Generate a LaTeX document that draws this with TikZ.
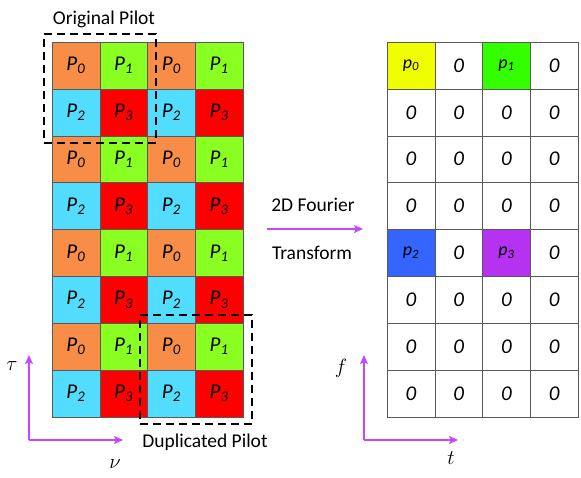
\documentclass[tikz,border=0pt]{standalone}
\usepackage{fontspec}
\setmainfont{Carlito}
\usetikzlibrary{positioning, arrows.meta}

\definecolor{pOrange}{RGB}{248,141,72}
\definecolor{pLime}{RGB}{138,255,34}
\definecolor{pCyan}{RGB}{82,221,255}
\definecolor{pRed}{RGB}{255,0,0}
\definecolor{qYellow}{RGB}{240,255,0}
\definecolor{qGreen}{RGB}{52,255,0}
\definecolor{qBlue}{RGB}{52,102,255}
\definecolor{qPurple}{RGB}{180,50,240}
\definecolor{axisMagenta}{RGB}{200,70,255}

\newcommand{\pil}[1]{P\textsubscript{#1}}
\newcommand{\sym}[1]{p\textsubscript{#1}}

\begin{document}
\begin{tikzpicture}[x=1pt, y=-1pt]
    \tikzstyle{cell} = [rectangle, draw=gray!70!black, minimum width=47.75pt, minimum height=46.875pt, inner sep=0pt, font=\fontsize{21}{23}\selectfont\itshape]
    \tikzstyle{symcell} = [cell, font=\fontsize{18}{20}\selectfont\itshape]
    \tikzstyle{pilotbox} = [rectangle, draw=black, dash pattern=on 8pt off 5pt, line width=1.6pt, minimum width=112pt, minimum height=109pt]
    \tikzstyle{label} = [font=\fontsize{19.5}{22}\selectfont]
    \tikzstyle{axislabel} = [font=\fontsize{21}{23}\selectfont]
    \tikzstyle{arrow} = [draw=axisMagenta, line width=1.4pt, -{Stealth[length=9pt, width=8pt, inset=2pt]}]

    \useasboundingbox (0,0) rectangle (581,478);

    % Delay-Doppler grid
    \foreach \r/\s in {0/1, 2/3, 4/5, 6/7} {
        \node (L-\r-0) [cell, fill=pOrange] at (75.875, {42+46.875*(\r+0.5)}) {\pil{0}};
        \node (L-\r-1) [cell, fill=pLime] at (123.625, {42+46.875*(\r+0.5)}) {\pil{1}};
        \node (L-\r-2) [cell, fill=pOrange] at (171.375, {42+46.875*(\r+0.5)}) {\pil{0}};
        \node (L-\r-3) [cell, fill=pLime] at (219.125, {42+46.875*(\r+0.5)}) {\pil{1}};
        \node (L-\s-0) [cell, fill=pCyan] at (75.875, {42+46.875*(\s+0.5)}) {\pil{2}};
        \node (L-\s-1) [cell, fill=pRed] at (123.625, {42+46.875*(\s+0.5)}) {\pil{3}};
        \node (L-\s-2) [cell, fill=pCyan] at (171.375, {42+46.875*(\s+0.5)}) {\pil{2}};
        \node (L-\s-3) [cell, fill=pRed] at (219.125, {42+46.875*(\s+0.5)}) {\pil{3}};
    }

    % Time-frequency grid
    \node (R-0-0) [symcell, fill=qYellow] at (410.875, 65.4375) {\sym{0}};
    \node (R-0-1) [cell] at (458.625, 65.4375) {0};
    \node (R-0-2) [symcell, fill=qGreen] at (506.375, 65.4375) {\sym{1}};
    \node (R-0-3) [cell] at (554.125, 65.4375) {0};
    \node (R-4-0) [symcell, fill=qBlue] at (410.875, 252.9375) {\sym{2}};
    \node (R-4-1) [cell] at (458.625, 252.9375) {0};
    \node (R-4-2) [symcell, fill=qPurple] at (506.375, 252.9375) {\sym{3}};
    \node (R-4-3) [cell] at (554.125, 252.9375) {0};
    \foreach \r in {1, 2, 3, 5, 6, 7} {
        \foreach \c in {0, 1, 2, 3} {
            \node (R-\r-\c) [cell] at ({410.875+47.75*\c}, {42+46.875*(\r+0.5)}) {0};
        }
    }

    % Pilot boxes
    \node (orig) [pilotbox] at (100, 88.5) {};
    \node (dup) [pilotbox] at (196, 369.5) {};
    \node (orig-label) [label] at (104, 19) {Original Pilot};
    \node (dup-label) [label] at (205, 442) {Duplicated Pilot};

    % Axes
    \coordinate (dd-origin) at (29, 440);
    \coordinate (dd-tau) at (29, 355);
    \coordinate (dd-nu) at (123, 440);
    \coordinate (tf-origin) at (364, 440);
    \coordinate (tf-f) at (364, 355);
    \coordinate (tf-t) at (458, 440);
    \node (tau) [axislabel] at (12, 366) {$\tau$};
    \node (nu) [axislabel] at (115, 464) {$\nu$};
    \node (f) [axislabel] at (341, 368) {$f$};
    \node (t) [axislabel] at (451, 458) {$t$};

    % Transform
    \coordinate (ft-start) at (267, 229);
    \coordinate (ft-end) at (363, 229);
    \node (ft-top) [label] at (313, 205) {2D Fourier};
    \node (ft-bottom) [label] at (312, 253) {Transform};

    % Arrows
    \draw [arrow] (dd-origin) -- (dd-tau);
    \draw [arrow] (dd-origin) -- (dd-nu);
    \draw [arrow] (tf-origin) -- (tf-f);
    \draw [arrow] (tf-origin) -- (tf-t);
    \draw [arrow] (ft-start) -- (ft-end);
\end{tikzpicture}
\end{document}
